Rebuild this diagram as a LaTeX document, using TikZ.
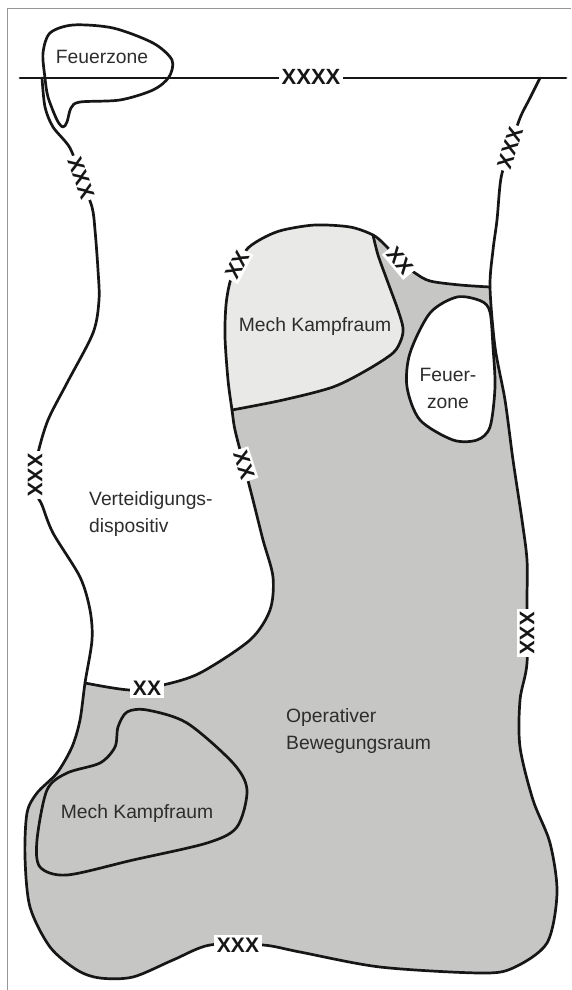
\documentclass[tikz,border=0pt]{standalone}
\usepackage{fontspec}
\setmainfont{Liberation Sans}
\definecolor{opgray}{RGB}{198,199,197}
\definecolor{mechgray}{RGB}{233,233,231}
\definecolor{ink}{RGB}{22,22,22}
\definecolor{txt}{RGB}{45,45,45}
\definecolor{framegray}{RGB}{150,150,150}
\tikzset{
  bound/.style={draw=ink, line width=2.7pt, line join=round, line cap=round},
  lbl/.style={text=txt, font=\fontsize{19.3}{27}\selectfont, inner sep=0pt},
  xlbl/.style={fill=white, text=ink, font=\fontsize{21}{21}\selectfont\bfseries, inner sep=2.5pt},
  xxxxlbl/.style={fill=white, text=ink, font=\fontsize{22}{22}\selectfont\bfseries, inner sep=3pt},
  frameline/.style={draw=framegray, line width=0.8pt}
}
\begin{document}
\begin{tikzpicture}[x=1pt,y=-1pt]
\useasboundingbox (0,0) rectangle (571,990);
\fill[white] (0,0) rectangle (571,990);
% frame
\draw[frameline] (7,990) -- (7,8) -- (571,8);

% operative area (dark gray)
\fill[opgray] plot[smooth] coordinates {(373,235) (385,245) (400,261) (415,273) (430,281) (460,285) (490,287)}
  -- plot[smooth] coordinates {(490,287) (495,347) (505,400) (513,460) (522,520) (527,560) (527,600) (527,663) (520,700) (520,747) (533,800) (550,843) (557,893) (547,943) (513,968) (480,973) (380,967) (300,952) (263,945) (210,945) (173,960) (133,977) (100,978) (77,970) (50,947) (30,907) (25,857) (27,813) (37,793) (57,773) (72,747) (80,720) (85,683)}
  -- plot[smooth] coordinates {(85,683) (130,690) (163,685) (200,673) (250,640) (270,610) (273,577) (263,540) (253,500) (244,465) (235,430) (232,410)}
  -- plot[smooth] coordinates {(232,410) (283,400) (333,387) (367,370) (393,353) (401,340) (403,328) (398,310) (387,280) (378,255) (373,235)}
  -- cycle;

% upper Mech Kampfraum (light gray)
\fill[mechgray] plot[smooth] coordinates {(232,410) (283,400) (333,387) (367,370) (393,353) (401,340) (403,328) (398,310) (387,280) (378,255) (373,235)}
  -- plot[smooth] coordinates {(373,235) (350,227) (315,225) (283,230) (265,237) (248,248) (237,265) (230,282) (226,305) (225,337) (228,380) (232,410)}
  -- cycle;

% small Feuerzone (white)
\path[bound, fill=white] plot[smooth cycle] coordinates {(457,297) (481,301) (490,312) (493,347) (495,387) (490,427) (477,440) (453,440) (420,420) (407,387) (410,353) (430,313)};

% lines
\draw[bound] (20,78) -- (566,78);
\draw[bound] plot[smooth] coordinates {(42,78) (45,107) (53,127) (70,148) (81,178) (92,207) (95,230) (98,270) (99,300) (93,333) (67,383) (48,420) (38,453) (35,475) (37,495) (42,505) (53,533) (80,577) (90,610) (92,640) (85,683) (80,720) (72,747) (57,773) (37,793) (27,813) (25,857) (30,907) (50,947) (77,970) (100,978) (133,977) (173,960) (210,945) (263,945) (300,952) (380,967) (480,973) (513,968) (547,943) (557,893) (550,843) (533,800) (520,747) (520,700) (527,663) (527,600) (527,560) (522,520) (513,460) (505,400) (495,347) (490,287) (493,250) (497,220) (501,178) (510,148) (520,118) (530,98) (540,78)};
\draw[bound] plot[smooth] coordinates {(85,683) (130,690) (163,685) (200,673) (250,640) (270,610) (273,577) (263,540) (253,500) (244,465) (235,430) (232,410) (228,380) (225,337) (226,305) (230,282) (237,265) (248,248) (265,237) (283,230) (315,225) (350,227) (373,235) (385,245) (400,261) (415,273) (430,281) (460,285) (490,287)};
\draw[bound] plot[smooth] coordinates {(232,410) (283,400) (333,387) (367,370) (393,353) (401,340) (403,328) (398,310) (387,280) (378,255) (373,235)};
% lower Mech Kampfraum
\draw[bound] plot[smooth cycle] coordinates {(127,712) (147,710) (187,723) (233,763) (247,790) (237,827) (207,843) (133,860) (67,875) (40,867) (37,840) (47,790) (67,773) (100,763) (115,747) (118,727)};
% top-left Feuerzone
\draw[bound] plot[smooth cycle, tension=0.5] coordinates {(45,78) (43,53) (50,33) (73,25) (113,28) (153,43) (172,60) (169,77) (153,90) (120,100) (80,102) (71,108) (67,122) (63,127) (57,120) (48,97)};

% boundary markers
\node[xxxxlbl] (m4) at (311,77) {XXXX};
\node[xlbl, rotate=-70] (m3a) at (81,178) {XXX};
\node[xlbl, rotate=72] (m3b) at (510,148) {XXX};
\node[xlbl, rotate=-90] (m3c) at (35,475) {XXX};
\node[xlbl, rotate=62] (m2a) at (237,265) {XX};
\node[xlbl, rotate=-50] (m2b) at (400,261) {XX};
\node[xlbl, rotate=-72] (m2c) at (244,465) {XX};
\node[xlbl] (m2d) at (147,688) {XX};
\node[xlbl, rotate=-90] (m3d) at (527,633) {XXX};
\node[xlbl] (m3e) at (238,945) {XXX};

% area texts
\node[lbl] (fz1) at (102,57) {Feuerzone};
\node[lbl] (mk1) at (315,327) {Mech Kampfraum};
\node[lbl, align=center] (fz2) at (448,388) {Feuer-\\zone};
\node[lbl, align=left, anchor=west] (vd) at (89,514) {Verteidigungs-\\dispositiv};
\node[lbl, align=left, anchor=west] (ob) at (286,731) {Operativer\\Bewegungsraum};
\node[lbl] (mk2) at (137,813) {Mech Kampfraum};
\end{tikzpicture}
\end{document}
